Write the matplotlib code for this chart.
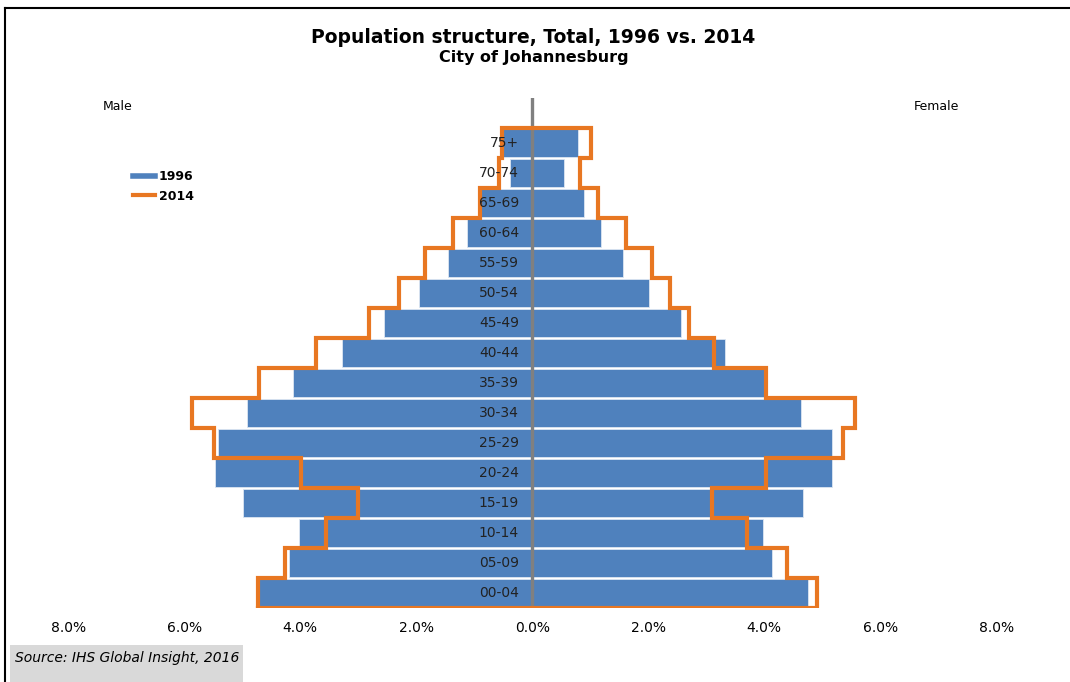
import matplotlib
matplotlib.use("Agg")
import matplotlib.pyplot as plt
from matplotlib.lines import Line2D
from matplotlib.patches import Rectangle
import numpy as np

# Age groups, bottom to top
age_groups = ["00-04", "05-09", "10-14", "15-19", "20-24", "25-29", "30-34", "35-39",
              "40-44", "45-49", "50-54", "55-59", "60-64", "65-69", "70-74", "75+"]

# Share of total population (%)
male_1996 = [4.71, 4.19, 4.02, 4.99, 5.47, 5.41, 4.91, 4.12,
             3.28, 2.56, 1.95, 1.45, 1.12, 0.88, 0.38, 0.51]
female_1996 = [4.76, 4.14, 3.98, 4.67, 5.17, 5.16, 4.63, 4.01,
               3.32, 2.56, 2.02, 1.57, 1.18, 0.89, 0.55, 0.78]
male_2014 = [4.73, 4.26, 3.55, 3.01, 3.98, 5.48, 5.86, 4.71,
             3.73, 2.81, 2.29, 1.85, 1.36, 0.90, 0.57, 0.53]
female_2014 = [4.91, 4.39, 3.71, 3.10, 4.03, 5.35, 5.56, 4.03,
               3.13, 2.71, 2.37, 2.06, 1.62, 1.13, 0.83, 1.01]

x_ticks = [-8, -6, -4, -2, 0, 2, 4, 6, 8]

BLUE = "#4F81BD"
ORANGE = "#E87722"

fig = plt.figure(figsize=(10.7, 6.82), dpi=100)
ax = fig.add_axes([0.0638, 0.1085, 0.8673, 0.748])

y = np.arange(len(age_groups))
ax.barh(y, -np.array(male_1996), height=0.92, color=BLUE, edgecolor="#DCE6F2", linewidth=0.6, zorder=2)
ax.barh(y, female_1996, height=0.92, color=BLUE, edgecolor="#DCE6F2", linewidth=0.6, zorder=2)

# 2014 outline as a closed step path
xs, ys = [], []
for i, v in enumerate(male_2014):
    xs += [-v, -v]
    ys += [i - 0.5, i + 0.5]
for i in reversed(range(len(female_2014))):
    xs += [female_2014[i], female_2014[i]]
    ys += [i + 0.5, i - 0.5]
xs.append(xs[0])
ys.append(ys[0])
ax.plot(xs, ys, color=ORANGE, lw=3, solid_joinstyle="miter", zorder=4)

ax.axvline(0, color="#808080", lw=2.4, zorder=3)

for i, lab in enumerate(age_groups):
    ax.text(-0.23, i, lab, ha="right", va="center", fontsize=10, color="#222222", zorder=5)

ax.set_xlim(-8, 8)
ax.set_ylim(-0.5, 16.5)
ax.set_xticks(x_ticks)
ax.set_xticklabels([f"{abs(t):.1f}%" for t in x_ticks], fontsize=10)
ax.set_yticks([])
ax.tick_params(axis="x", length=0, pad=9)
for s in ax.spines.values():
    s.set_visible(False)

# titles and side labels
fig.text(0.4985, 0.945, "Population structure, Total, 1996 vs. 2014", ha="center", va="center",
         fontsize=13.5, fontweight="bold")
fig.text(0.4985, 0.916, "City of Johannesburg", ha="center", va="center", fontsize=11.5, fontweight="bold")
fig.text(118 / 1070, 1 - 107 / 682, "Male", ha="center", va="center", fontsize=9)
fig.text(936 / 1070, 1 - 107 / 682, "Female", ha="center", va="center", fontsize=9)

handles = [Line2D([], [], color=BLUE, lw=4), Line2D([], [], color=ORANGE, lw=3)]
leg = fig.legend(handles, ["1996", "2014"], loc="upper left", bbox_to_anchor=(122 / 1070, 1 - 159 / 682),
                 frameon=False, handlelength=1.75, handletextpad=0.3, labelspacing=0.5,
                 prop={"size": 9, "weight": "bold"})

# outer frame and source box
fig.add_artist(Line2D([5 / 1070, 5 / 1070], [0, 1 - 8 / 682], color="black", lw=1.5))
fig.add_artist(Line2D([5 / 1070, 1], [1 - 8 / 682, 1 - 8 / 682], color="black", lw=1.5))
fig.add_artist(Rectangle((10 / 1070, 0), 233 / 1070, 37 / 682, color="#D9D9D9", lw=0))
fig.text(15 / 1070, 1 - 658 / 682, "Source: IHS Global Insight, 2016", ha="left", va="center",
         fontsize=10, style="italic")

fig.savefig("out.png", dpi=100)
